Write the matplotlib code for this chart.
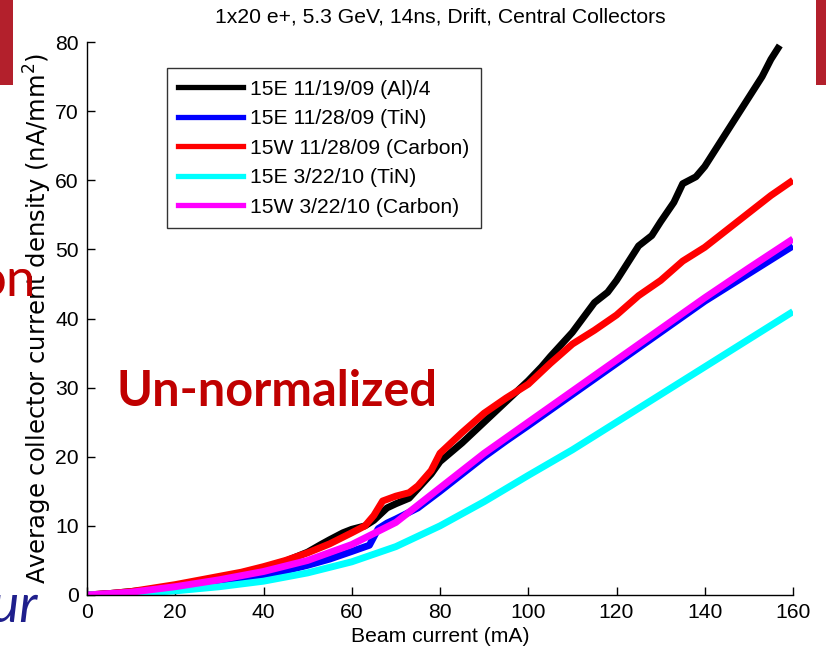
import matplotlib
matplotlib.use("Agg")
import matplotlib.pyplot as plt
from matplotlib.patches import Rectangle
from matplotlib.lines import Line2D

# Beam current (mA) and collector current density (nA/mm^2) for each run
al_x = [0, 5, 10, 15, 20, 25, 30, 35, 40, 45, 50, 53, 55, 58, 60, 63, 65, 68, 70, 73, 75, 78, 80,
        85, 90, 95, 100, 103, 105, 110, 115, 118, 120, 125, 128, 130, 133, 135, 138, 140,
        145, 150, 153, 155, 157]
al_y = [0, 0.2, 0.5, 0.8, 1.1, 1.5, 2.0, 2.8, 3.9, 4.9, 6.2, 7.3, 8.0, 9.0, 9.5, 10.0, 10.8, 12.6,
        13.2, 14.0, 15.4, 17.5, 19.3, 22.0, 25.0, 28.0, 31.0, 33.0, 34.5, 38.0, 42.3, 43.8,
        45.5, 50.5, 52.0, 54.0, 56.8, 59.5, 60.5, 62.0, 67.0, 72.0, 75.0, 77.5, 79.5]

tin1_x = [0, 10, 20, 30, 40, 45, 50, 55, 60, 64, 66, 68, 70, 75, 80, 85, 90, 95, 100,
          110, 120, 130, 140, 150, 155, 160]
tin1_y = [0, 0.3, 1.0, 1.9, 2.9, 3.5, 4.3, 5.2, 6.3, 7.2, 9.6, 10.4, 11.0, 12.6, 15.0, 17.5,
          20.0, 22.3, 24.5, 29.0, 33.5, 38.0, 42.5, 46.5, 48.5, 50.5]

c1_x = [0, 5, 10, 15, 20, 25, 30, 35, 40, 45, 50, 55, 60, 63, 65, 67, 70, 73, 75, 78, 80,
        85, 90, 95, 100, 105, 110, 115, 120, 125, 130, 135, 140, 145, 150, 155, 160]
c1_y = [0, 0.2, 0.5, 1.0, 1.5, 2.1, 2.7, 3.3, 4.1, 5.0, 6.1, 7.4, 9.0, 10.0, 11.5, 13.6,
        14.3, 14.8, 15.8, 18.0, 20.5, 23.5, 26.3, 28.5, 30.5, 33.5, 36.3, 38.3, 40.5, 43.3,
        45.5, 48.3, 50.3, 52.8, 55.3, 57.8, 60.0]

tin2_x = [0, 10, 20, 30, 40, 50, 60, 70, 80, 90, 100, 110, 120, 130, 140, 150, 160]
tin2_y = [0, 0.2, 0.6, 1.2, 2.0, 3.2, 4.8, 7.0, 10.0, 13.5, 17.3, 21.0, 25.0, 29.0, 33.0,
          37.0, 41.0]

c2_x = [0, 10, 20, 30, 40, 50, 60, 70, 80, 90, 100, 110, 120, 130, 140, 150, 160]
c2_y = [0, 0.4, 1.2, 2.2, 3.4, 5.0, 7.3, 10.5, 15.5, 20.5, 25.0, 29.5, 34.0, 38.5, 43.0,
        47.3, 51.5]

labels = ["15E 11/19/09 (Al)/4", "15E 11/28/09 (TiN)", "15W 11/28/09 (Carbon)",
          "15E 3/22/10 (TiN)", "15W 3/22/10 (Carbon)"]
colors = ["#000000", "#0000ff", "#ff0000", "#00ffff", "#ff00ff"]
series = [(al_x, al_y), (tin1_x, tin1_y), (c1_x, c1_y), (tin2_x, tin2_y), (c2_x, c2_y)]

xticks = [0, 20, 40, 60, 80, 100, 120, 140, 160]
yticks = [0, 10, 20, 30, 40, 50, 60, 70, 80]

plt.rcParams["font.family"] = ["Liberation Sans", "DejaVu Sans"]
FS = 15.2

fig = plt.figure(figsize=(8.26, 6.53), dpi=100)
fig.patch.set_facecolor("white")
ax = fig.add_axes([87 / 826, 1 - 595 / 653, (793 - 87) / 826, (595 - 42) / 653])

for (xs, ys), col in zip(series, colors):
    ax.plot(xs, ys, color=col, lw=5.0, solid_capstyle="butt", solid_joinstyle="round")

ax.set_xlim(0, 160)
ax.set_ylim(0, 80)
ax.set_xticks(xticks)
ax.set_yticks(yticks)
ax.tick_params(direction="in", length=6, width=1.0, labelsize=FS, colors="black", pad=6)
for side in ("top", "right"):
    ax.spines[side].set_visible(False)
for side in ("left", "bottom"):
    ax.spines[side].set_linewidth(1.0)

ax.set_xlabel("Beam current (mA)", fontsize=FS, labelpad=3)
ax.set_ylabel("Average collector current density (nA/mm$^2$)", fontsize=17.5,
              family=["DejaVu Sans"], labelpad=1)
ax.set_title("1x20 e+, 5.3 GeV, 14ns, Drift, Central Collectors", fontsize=FS, pad=14)

handles = [Line2D([0], [0], color=c, lw=3.8) for c in colors]
leg = ax.legend(handles, labels, loc="upper left", bbox_to_anchor=(0.113, 0.953),
                fontsize=FS, frameon=True, fancybox=False, handlelength=3.05,
                handletextpad=0.35, labelspacing=0.5, borderpad=0.55, borderaxespad=0)
leg.get_frame().set_edgecolor("black")
leg.get_frame().set_linewidth(1.0)

# slide decorations around the plot
fig.add_artist(Rectangle((0, 1 - 85 / 653), 13 / 826, 85 / 653, transform=fig.transFigure,
                         facecolor="#b3202c", edgecolor="none"))
fig.add_artist(Rectangle((816 / 826, 1 - 85 / 653), 10 / 826, 85 / 653, transform=fig.transFigure,
                         facecolor="#b3202c", edgecolor="none"))
fig.text(116 / 826, 1 - 392 / 653, "Un-normalized", fontsize=35, fontweight="bold",
         color="#c00000", family=["Lato", "DejaVu Sans"], va="center", ha="left")
fig.text(36 / 826, 1 - 282 / 653, "on", fontsize=38, color="#c00000",
         family=["Lato", "DejaVu Sans"], va="center", ha="right")
fig.text(38 / 826, 1 - 607 / 653, "our", fontsize=38, color="#1f1f8c", style="italic",
         family=["Lato", "DejaVu Sans"], va="center", ha="right")

fig.savefig("out.png", dpi=100, facecolor="white")
